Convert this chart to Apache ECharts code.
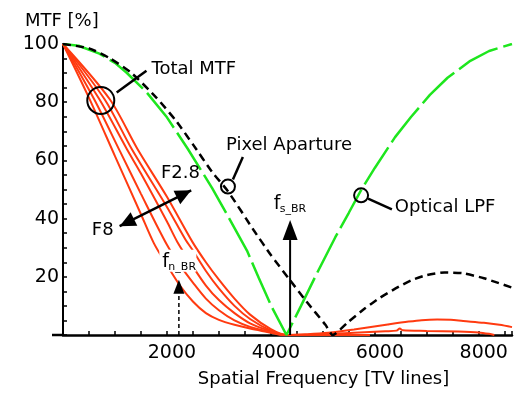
<!DOCTYPE html>
<html><head><meta charset="utf-8">
<script src="https://cdn.jsdelivr.net/npm/echarts@6/dist/echarts.min.js"></script>
<style>html,body{margin:0;padding:0;background:#fff}#c{width:515px;height:393px}</style>
</head><body><div id="c"></div>
<script>
// ---- data ----
const xTickLabels = [2000, 4000, 6000, 8000];
const yTickLabels = [20, 40, 60, 80, 100];

const opticalLPF = [[0,100],[300,99.4],[700,96.7],[1000,93.5],[1220,90.2],[1600,83.6],[2000,74.8],[2400,64],[2870,50.5],[3200,40],[3540,29],[3770,19.5],[4020,9.5],[4300,0],[4580,10],[4875,20.8],[5240,33.6],[5500,42],[5736,49.8],[6000,57.4],[6390,68],[6700,75],[7060,82.5],[7400,88.4],[7820,94],[8200,97.6],[8640,100]];

const pixelAperture = [[0,100],[500,98.5],[900,95.1],[1320,90],[1800,81.5],[2180,73.5],[2500,65.5],[2870,56],[3170,49.5],[3670,36],[4000,27.5],[4340,19.5],[4685,11.5],[5050,3.5],[5190,0],[5490,4.5],[5800,9],[6100,12.8],[6400,16],[6700,18.8],[7000,20.6],[7340,21.5],[7700,21.2],[8100,19.5],[8640,16.3]];

const mtfF8  = [[0,100],[500,81.5],[1000,61.5],[1500,41.5],[1750,31.5],[2000,24],[2250,17],[2500,11.5],[2750,7.5],[3000,5.2],[3300,3.5],[3600,2.2],[4000,0.8],[4200,0],[5900,0]];
const mtfF56 = [[0,100],[600,81],[1100,63],[1500,48.5],[2000,31],[2250,24],[2500,18],[2750,12.5],[3000,8.5],[3300,5],[3600,2.8],[4000,1],[4250,0],[5900,0]];
const mtfF4  = [[0,100],[700,81],[1225,64],[1500,55.5],[2000,39],[2200,32],[2500,23.5],[2750,17],[3000,12],[3300,7.5],[3600,4],[4000,1.3],[4300,0],[5900,0]];
const mtfF32 = [[0,100],[800,81],[1320,64],[2000,44],[2350,33],[2500,29],[2750,22],[3000,16],[3300,10],[3600,5.5],[4000,1.5],[4300,0],[5000,0.3],[5600,0.8],[6200,1.3],[6420,1.5],[6480,2.2],[6540,1.6],[7000,1.4],[7600,1.2],[8000,0.9],[8200,0.4],[8300,0]];
const mtfF28 = [[0,100],[900,81],[1430,64],[2000,47.5],[2490,32],[2750,25],[3000,19],[3300,12.5],[3600,7],[4000,2],[4300,0],[4700,0.3],[5100,0.8],[5600,1.9],[6250,3.6],[6650,4.6],[6900,5.1],[7200,5.3],[7460,5.2],[7700,4.8],[8100,4.2],[8400,3.5],[8640,2.7]];

const fnBR = 2230, fsBR = 4370;

// annotation anchors in data units
const ann = {
  totalCircle: [727, 80.6], totalLine: [[1033,83.3],[1606,90.8]], totalText: [1702, 91.2],
  pixCircle: [3174, 51.0], pixLine: [[3270,53.4],[3461,61.2]], pixText: [3136, 65.3],
  lpfCircle: [5736, 48.0], lpfLine: [[5870,46.9],[6329,43.2]], lpfText: [6386, 43.9],
  f28Text: [2260, 55.4], f8Text: [765, 36.1],
  dblArrow: [[1090, 37.4],[2467, 49.7]],
  fsTip: 39.5, fsText: [4054, 45.0],
  fnTip: 19.0, fnText: [1912, 25.2]
};

// ---- chart ----
const FONT = '"DejaVu Sans", sans-serif';
const RED = '#ff3a10', GREEN = '#1ee61e';
const chart = echarts.init(document.getElementById('c'));

function redLine(name, data){
  return {name, type:'line', data, showSymbol:false, smooth:0.3, z:2,
    lineStyle:{color:RED, width:2}, itemStyle:{color:RED}, animation:false};
}

chart.setOption({
  animation:false,
  grid:{left:63, right:0, top:44, bottom:55},
  xAxis:{type:'value', min:0, max:8640, interval:500,
    name:'Spatial Frequency [TV lines]', nameLocation:'middle', nameGap:35,
    nameTextStyle:{fontFamily:FONT, fontSize:18, color:'#000', padding:[0,0,0,72]},
    axisLine:{lineStyle:{color:'#000', width:2.5}},
    axisTick:{inside:true, length:4, lineStyle:{color:'#000', width:1.5}},
    axisLabel:{fontFamily:FONT, fontSize:19, color:'#000', margin:9, padding:[0,0,0,10],
      formatter:v=>xTickLabels.includes(v)?String(v):''},
    splitLine:{show:false}},
  yAxis:{type:'value', min:0, max:100, interval:5,
    name:'MTF [%]', nameLocation:'end', nameGap:14,
    nameTextStyle:{fontFamily:FONT, fontSize:18, color:'#000', align:'left', padding:[0,0,0,-38]},
    axisLine:{show:true, lineStyle:{color:'#000', width:2}},
    axisTick:{inside:true, length:4, lineStyle:{color:'#000', width:1.5}},
    axisLabel:{fontFamily:FONT, fontSize:19, color:'#000', margin:4,
      formatter:v=>yTickLabels.includes(v)?String(v):''},
    splitLine:{show:false}},
  series:[
    redLine('Total MTF F8', mtfF8),
    redLine('Total MTF F5.6', mtfF56),
    redLine('Total MTF F4', mtfF4),
    redLine('Total MTF F3.2', mtfF32),
    redLine('Total MTF F2.8', mtfF28),
    {name:'Optical LPF', type:'line', data:opticalLPF, showSymbol:false, z:3,
      lineStyle:{color:GREEN, width:2.5, type:[44,6]}},
    {name:'Pixel Aparture', type:'line', data:pixelAperture, showSymbol:false, z:4, smooth:0.2,
      lineStyle:{color:'#000', width:2.5, type:[8,5]}}
  ]
});

const P = (x,y)=>chart.convertToPixel({gridIndex:0},[x,y]);
function arrow(a, b, hl, hw, dashed, lw){
  const dx=b[0]-a[0], dy=b[1]-a[1], L=Math.hypot(dx,dy), ux=dx/L, uy=dy/L;
  const base=[b[0]-ux*hl, b[1]-uy*hl];
  const els=[{type:'line', z:50, shape:{x1:a[0],y1:a[1],x2:base[0],y2:base[1]},
     style:{stroke:'#000', lineWidth:lw, lineDash:dashed?[4,3]:null}},
    {type:'polygon', z:50, shape:{points:[b,[base[0]-uy*hw/2, base[1]+ux*hw/2],[base[0]+uy*hw/2, base[1]-ux*hw/2]]},
     style:{fill:'#000'}}];
  return els;
}
function twoWay(a,b,hl,hw,lw){
  const e1=arrow(a,b,hl,hw,false,lw), e2=arrow(b,a,hl,hw,false,lw);
  return [e1[1], e2[1], {type:'line', z:50, shape:{x1:a[0],y1:a[1],x2:b[0],y2:b[1]}, style:{stroke:'#000',lineWidth:lw}}];
}
const txt=(p,text,size,align,valign,extra)=>Object.assign({type:'text', z:60, x:p[0], y:p[1],
  style:{text, font:size+'px '+FONT, fill:'#000', align:align||'left', verticalAlign:valign||'middle'}}, extra||{});
const circle=(p,r)=>({type:'circle', z:55, shape:{cx:p[0],cy:p[1],r}, style:{fill:'none', stroke:'#000', lineWidth:2}});
const seg=(l)=>{const a=P(...l[0]), b=P(...l[1]); return {type:'line', z:55, shape:{x1:a[0],y1:a[1],x2:b[0],y2:b[1]}, style:{stroke:'#000', lineWidth:2.5}};};

const g=[];
const o=P(0,0);
g.push({type:'line', z:40, shape:{x1:o[0]-11,y1:o[1],x2:o[0],y2:o[1]}, style:{stroke:'#000', lineWidth:2.5}});
g.push(circle(P(...ann.totalCircle),13.5), seg(ann.totalLine), txt(P(...ann.totalText),'Total MTF',18));
g.push(circle(P(...ann.pixCircle),7), seg(ann.pixLine), txt(P(...ann.pixText),'Pixel Aparture',18));
g.push(circle(P(...ann.lpfCircle),7), seg(ann.lpfLine), txt(P(...ann.lpfText),'Optical LPF',18));
g.push(txt(P(...ann.f28Text),'F2.8',18,'center'), txt(P(...ann.f8Text),'F8',18,'center'));
g.push(...twoWay(P(...ann.dblArrow[0]), P(...ann.dblArrow[1]), 16, 15, 2.5));
// fs_BR arrow
g.push(...arrow(P(fsBR,0), P(fsBR,ann.fsTip), 20, 15, false, 2));
const fsp=P(...ann.fsText);
g.push(txt(fsp,'f',19), txt([fsp[0]+6, fsp[1]+5],'s_BR',11));
// fn_BR
const fnp=P(...ann.fnText);
g.push({type:'rect', z:45, shape:{x:fnp[0]-3, y:fnp[1]-12, width:37, height:22}, style:{fill:'#fff'}});
g.push(txt(fnp,'f',19), txt([fnp[0]+6, fnp[1]+5],'n_BR',11));
g.push(...arrow(P(fnBR,0), P(fnBR,ann.fnTip), 14, 11, true, 1.5));
chart.setOption({graphic:g});
</script></body></html>
